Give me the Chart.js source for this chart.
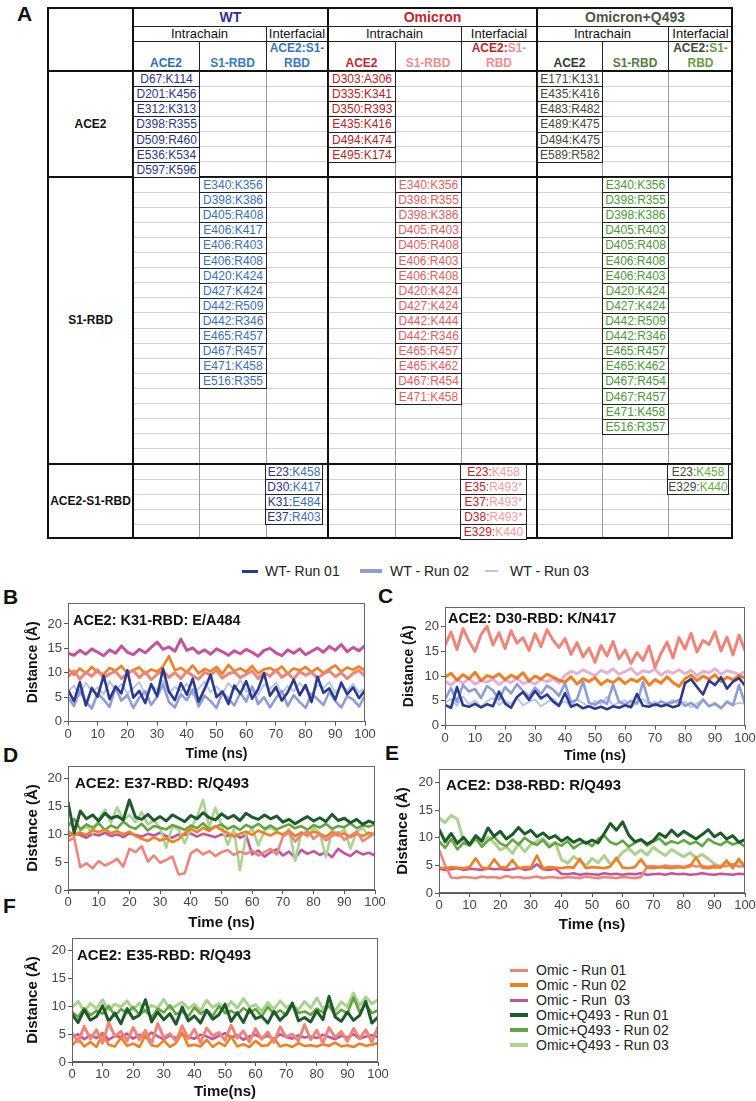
<!DOCTYPE html>
<html>
<head>
<meta charset="utf-8">
<script src="https://cdn.jsdelivr.net/npm/chart.js@4.4.0/dist/chart.umd.min.js"></script>
<style>
  body { margin:0; width:756px; height:1101px; position:relative; overflow:hidden; background:#fff;
         font-family:"Liberation Sans", Arial, sans-serif; color:#111; }
</style>
</head>
<body>
<script>
// ---------- table data (panel A) ----------
const wtAce2 = ["D67:K114","D201:K456","E312:K313","D398:R355","D509:R460","E536:K534","D597:K596"];
const wtS1 = ["E340:K356","D398:K386","D405:R408","E406:K417","E406:R403","E406:R408","D420:K424","D427:K424",
              "D442:R509","D442:R346","E465:R457","D467:R457","E471:K458","E516:R355"];
const wtInter = [["E23:","K458"],["D30:","K417"],["K31:","E484"],["E37:","R403"]];
const omAce2 = ["D303:A306","D335:K341","D350:R393","E435:K416","D494:K474","E495:K174"];
const omS1 = ["E340:K356","D398:R355","D398:K386","D405:R403","D405:R408","E406:R403","E406:R408","D420:K424",
              "D427:K424","D442:K444","D442:R346","E465:R457","E465:K462","D467:R454","E471:K458"];
const omInter = [["E23:","K458"],["E35:","R493*"],["E37:","R493*"],["D38:","R493*"],["E329:","K440"]];
const qAce2 = ["E171:K131","E435:K416","E483:R482","E489:K475","D494:K475","E589:R582"];
const qS1 = ["E340:K356","D398:R355","D398:K386","D405:R403","D405:R408","E406:R408","E406:R403","D420:K424",
             "D427:K424","D442:R509","D442:R346","E465:R457","E465:K462","D467:R454","D467:R457","E471:K458","E516:R357"];
const qInter = [["E23:","K458"],["E329:","K440"]];

// ---------- time series (ns) ----------
const times = [0,2,4,6,8,10,12,14,16,18,20,22,24,26,28,30,32,34,36,38,40,42,44,46,48,50,
               52,54,56,58,60,62,64,66,68,70,72,74,76,78,80,82,84,86,88,90,92,94,96,98,100];

// B: ACE2 K31 - RBD E/A484
const bWt1 = [6.5,4.2,8.1,3.3,6.9,5.1,9.4,4.6,7.2,5.8, 10.5,4.9,6.3,3.8,7.7,5.2,10.8,6.1,4.4,7.9,
              5.5,8.8,4.1,6.7,9.6,5.0,6.2,3.6,7.4,5.7, 8.3,4.7,6.6,9.9,5.3,7.1,4.3,6.0,8.6,5.4,
              7.5,4.0,9.2,5.9,6.8,4.5,8.0,5.6,7.0,4.8, 6.4];
const bWt2 = [5.0,3.2,6.4,4.1,2.7,5.8,4.5,3.0,6.9,4.3, 5.5,2.8,4.9,6.2,3.4,5.1,7.6,4.0,2.9,5.6,
              4.4,6.6,3.1,5.3,4.2,2.8,6.0,4.7,3.3,5.9, 4.1,7.2,3.6,5.0,2.9,4.8,6.3,3.2,5.4,4.0,
              2.8,5.7,4.6,3.4,6.1,4.2,2.9,5.2,4.5,3.1, 5.3];
const bWt3 = [6.2,7.4,5.3,8.0,6.1,7.0,5.6,8.3,6.4,7.7, 5.8,6.9,8.1,5.5,7.3,6.6,8.4,5.9,7.1,6.3,
              7.8,5.4,6.8,8.2,6.0,7.2,5.7,7.9,6.5,8.6, 6.1,7.0,5.5,7.6,6.7,8.0,5.8,7.3,6.2,7.9,
              6.6,5.4,7.5,6.9,8.1,5.9,7.2,6.4,7.7,6.0, 6.8];
const bOm1 = [9.2,10.4,8.7,10.1,9.3,10.6,8.9,9.8,10.3,8.8, 9.9,10.5,9.0,10.2,8.6,9.7,10.4,9.1,10.0,8.8,
              10.3,9.4,8.7,10.1,9.6,10.5,8.9,9.8,10.2,9.0, 9.7,10.4,8.8,10.0,9.3,10.6,9.1,9.9,8.7,10.3,
              9.5,10.1,8.9,9.8,10.4,9.2,10.0,8.8,9.9,10.5, 9.3];
const bOm2 = [10.8,9.6,10.9,9.9,11.2,10.1,9.7,11.0,10.4,11.4, 9.9,10.6,11.1,9.8,10.7,10.2,11.3,13.4,10.5,11.0,
              10.1,11.5,9.9,10.8,10.3,11.2,9.8,11.6,10.4,10.9, 10.2,11.4,9.9,10.7,11.0,10.3,11.3,9.8,10.9,10.5,
              11.2,10.1,11.0,9.9,10.8,11.5,10.2,11.1,10.6,11.3, 10.4];
const bOm3 = [14.0,13.6,14.6,13.8,14.9,14.2,13.5,14.7,14.0,15.5, 14.2,13.7,14.8,14.1,15.2,16.3,14.8,15.3,14.4,16.9,
              14.6,15.1,14.0,14.7,13.8,14.9,14.3,13.6,14.5,13.9, 14.8,14.2,13.4,14.6,15.0,14.1,13.5,14.7,14.0,14.9,
              13.7,14.4,15.1,14.2,15.4,14.6,15.8,14.3,15.2,14.5, 15.6];

// C: ACE2 D30 - RBD K/N417
const cWt1 = [4.2,3.6,7.8,4.1,3.8,4.4,3.7,4.3,3.9,6.9, 4.5,3.6,5.8,6.8,5.2,7.0,5.5,6.3,4.9,4.0,
              6.6,3.8,4.3,3.5,3.9,3.4,3.8,3.3,3.9,3.6, 4.1,3.7,6.4,4.0,3.8,4.3,3.9,4.2,3.7,4.1,
              8.6,9.4,7.8,6.3,9.1,8.2,9.8,7.5,8.9,9.6, 8.1];
const cWt2 = [5.3,7.6,4.8,8.2,6.9,7.4,5.6,8.0,7.1,5.2, 7.8,6.5,8.4,7.0,5.9,7.7,6.4,8.1,7.3,6.0,
              8.6,4.7,5.3,8.9,4.6,4.2,5.1,4.4,8.3,4.8, 4.3,5.0,4.5,8.8,4.6,4.1,4.9,4.4,4.7,5.2,
              4.0,4.6,3.6,5.3,3.9,4.4,3.5,4.8,4.1,8.2, 4.4];
const cWt3 = [4.6,5.4,4.0,5.9,4.3,5.1,3.8,4.9,5.6,4.2, 5.0,4.4,5.7,4.1,4.8,5.3,3.9,4.7,5.5,4.3,
              4.9,4.0,5.2,4.6,3.7,5.0,4.4,5.8,4.1,4.7, 5.1,3.8,4.5,5.4,4.2,4.9,3.9,4.6,5.2,4.3,
              4.8,3.7,4.5,5.1,4.0,4.7,3.6,5.0,4.2,4.6, 4.4];
const cOm1 = [16.2,18.9,15.4,19.6,17.1,15.0,18.4,20.1,16.3,18.8, 15.6,19.2,16.7,17.8,15.2,18.6,16.0,19.4,17.3,15.8,
              17.6,14.4,16.8,13.9,15.7,12.8,16.2,14.1,17.0,13.5, 15.3,12.6,14.8,13.2,16.1,11.8,14.6,16.9,13.7,17.8,
              15.5,18.7,14.9,17.2,16.4,19.0,15.1,17.9,14.3,18.3, 15.2];
const cOm2 = [9.8,10.6,9.2,10.3,9.5,10.8,9.1,10.1,9.7,10.5, 9.3,10.2,9.6,10.7,9.0,10.0,9.4,10.4,9.8,9.2,
              8.8,9.9,8.4,9.5,8.9,9.7,8.3,9.2,8.7,9.6, 8.5,9.4,8.9,9.8,8.2,9.3,8.6,9.9,8.7,7.9,
              9.5,10.2,9.1,10.0,9.4,10.3,8.9,9.8,9.3,10.1, 9.6];
const cOm3 = [9.0,8.2,9.3,8.6,9.5,8.4,9.1,8.8,9.4,8.3, 9.2,8.7,9.6,8.5,9.0,8.4,9.3,8.9,9.5,8.6,
              10.2,11.0,10.5,11.3,10.7,10.1,11.2,10.6,11.5,10.4, 10.9,11.6,10.3,11.1,10.8,11.4,10.2,11.0,10.6,11.3,
              10.5,11.2,10.1,11.0,10.7,11.5,10.4,11.1,10.8,10.3, 10.9];

// D: ACE2 E37 - RBD R/Q493
const dOm1 = [8.8,9.4,4.1,4.8,3.9,5.2,4.4,4.9,5.6,4.2, 7.4,6.8,7.9,5.1,6.2,4.9,5.4,6.0,2.8,3.0,
              6.6,7.3,6.4,7.0,6.1,6.8,7.2,6.3,6.9,6.5, 7.1,6.2,6.8,7.4,6.4,9.6,10.3,8.7,9.9,10.6,
              9.2,10.1,8.9,9.7,10.4,9.0,9.8,10.5,8.8,9.5, 10.2];
const dOm2 = [10.6,9.8,10.3,9.9,10.8,10.4,10.9,10.2,10.6,10.0, 10.5,9.7,9.2,8.8,9.5,8.9,9.3,8.6,9.1,10.2,
              11.0,10.4,11.2,10.6,11.5,10.8,10.3,9.6,10.1,10.5, 9.9,10.7,10.2,9.8,10.4,10.0,10.6,9.7,10.3,9.9,
              10.5,10.1,9.6,10.4,9.8,10.2,9.5,10.1,9.7,10.3, 9.9];
const dOm3 = [9.6,10.2,9.9,9.4,10.1,9.8,10.3,9.7,10.0,9.5, 10.2,9.9,9.6,10.1,9.8,10.3,9.7,9.4,10.0,9.9,
              10.2,9.6,10.1,9.8,9.5,10.0,9.7,10.3,9.4,9.9, 6.4,7.1,6.0,6.8,7.3,6.2,6.9,5.8,7.2,6.5,
              7.0,6.3,6.8,5.9,7.4,6.6,6.1,7.0,6.4,6.7, 6.2];
const dQ1 = [15.8,10.3,14.2,12.8,13.5,12.4,13.8,12.9,13.3,12.6, 16.2,13.1,12.7,13.6,12.5,13.2,12.4,13.5,12.9,12.3,
             13.4,12.8,13.9,13.0,12.6,13.7,12.9,13.4,12.5,13.8, 13.1,12.7,13.5,12.8,13.3,12.2,12.7,11.9,12.6,13.2,
             12.4,13.0,12.3,13.6,12.5,12.9,12.1,12.7,11.8,12.4, 12.0];
const dQ2 = [11.5,12.8,10.9,11.8,11.2,12.0,10.8,11.6,11.1,12.3, 11.4,11.0,11.9,10.7,11.5,11.2,10.9,11.7,11.3,10.8,
             11.6,11.1,12.0,10.9,11.4,11.8,11.0,11.5,10.8,11.7, 11.2,11.9,11.0,11.6,10.9,11.4,11.8,11.1,11.5,10.8,
             11.7,11.2,11.9,11.0,11.5,11.3,12.0,11.1,11.6,11.4, 11.8];
const dQ3 = [10.5,9.8,10.6,11.5,10.2,12.8,14.4,12.1,14.9,12.6, 13.5,12.2,14.0,11.8,12.5,11.2,7.6,11.5,10.9,8.4,
             11.0,13.2,16.2,11.3,14.8,11.6,8.1,10.9,3.6,9.8, 11.1,8.0,10.7,11.3,10.5,9.8,11.0,5.2,10.4,9.6,
             11.2,10.3,5.9,10.8,9.9,11.0,7.4,10.5,11.1,9.8, 10.4];

// E: ACE2 D38 - RBD R/Q493
const eOm1 = [7.9,5.0,2.8,2.7,2.9,2.8,2.7,3.0,2.8,2.9, 2.7,3.1,2.8,2.9,2.7,2.8,3.0,2.7,2.9,2.8,
              2.7,2.9,2.8,2.7,3.0,2.8,2.7,2.9,2.8,2.7, 2.9,2.8,2.7,2.9,4.8,4.9,4.7,5.0,4.8,4.9,
              4.7,5.1,4.8,4.9,4.7,5.0,4.8,4.9,5.2,4.8, 4.9];
const eOm2 = [4.6,4.5,4.7,4.6,4.5,4.7,6.3,4.6,4.5,6.1, 4.7,4.6,6.0,4.5,4.7,4.6,6.8,4.5,4.7,4.6,
              4.5,4.7,4.6,6.2,4.5,4.7,4.6,4.5,4.8,6.4, 4.6,4.5,4.7,6.1,4.6,4.5,4.7,4.6,4.5,4.7,
              4.6,4.8,6.5,4.6,4.5,4.7,4.6,5.9,4.5,6.2, 4.6];
const eOm3 = [4.4,4.2,4.3,4.5,4.2,4.4,4.3,4.2,4.5,4.3, 4.4,4.2,4.3,4.6,4.2,4.4,5.2,4.3,4.2,4.4,
              3.5,3.4,3.6,3.3,3.5,3.4,3.3,3.6,3.4,3.5, 3.3,3.5,3.4,3.6,3.3,3.4,3.5,3.3,3.6,3.4,
              3.5,3.3,3.4,3.6,3.4,3.3,3.5,3.4,3.3,3.5, 3.4];
const eQ1 = [11.6,9.3,10.8,9.0,10.1,8.8,10.4,9.4,11.8,10.3, 11.2,9.8,10.6,11.9,10.7,11.4,10.2,10.9,9.9,10.4,
             9.4,10.1,9.2,9.8,9.0,9.6,9.1,10.8,12.6,11.4, 12.9,10.5,9.3,9.7,8.9,9.5,10.8,10.1,11.4,10.3,
             11.2,10.5,9.8,10.6,11.5,10.2,10.9,9.8,10.4,9.2, 9.7];
const eQ2 = [9.4,8.2,9.8,7.9,9.1,8.6,9.9,8.4,9.5,10.2, 9.0,8.5,9.7,8.8,10.0,9.2,8.7,9.6,8.3,9.1,
             8.6,9.4,8.1,8.9,9.3,8.5,9.8,10.4,9.2,8.8, 9.5,8.4,9.1,9.7,8.6,9.3,9.9,8.8,9.4,9.0,
             9.6,8.9,9.3,8.5,9.8,9.1,8.7,9.4,8.8,9.2, 8.4];
const eQ3 = [13.6,12.8,14.1,13.4,9.5,8.6,9.8,8.9,10.2,9.1, 7.8,8.4,7.2,8.9,7.5,8.8,9.4,9.9,8.6,9.2,
             6.1,5.4,6.6,5.8,4.9,6.3,5.5,6.8,5.2,6.0, 7.4,8.1,7.0,7.8,6.9,8.3,7.5,6.8,7.9,7.2,
             6.6,7.3,6.4,7.0,6.2,5.3,4.8,5.6,4.9,5.8, 5.1];

// F: ACE2 E35 - RBD R/Q493
const fOm1 = [5.2,3.6,6.4,4.1,5.8,3.4,7.1,4.6,5.5,3.8, 6.2,4.0,5.7,3.3,6.9,4.4,5.1,3.7,6.5,4.2,
              5.9,3.5,6.1,4.7,5.3,3.9,6.6,4.3,5.6,3.6, 6.0,4.1,5.4,3.5,6.3,4.5,5.0,3.8,6.7,4.0,
              5.7,3.4,6.2,4.4,5.5,3.7,6.0,4.2,5.8,3.6, 6.3];
const fOm2 = [3.0,4.2,2.8,3.6,2.7,5.1,3.1,2.8,4.4,2.9, 3.3,2.7,4.8,3.0,2.8,3.9,2.7,3.4,5.3,2.9,
              3.1,2.8,4.0,2.7,3.5,2.9,4.6,2.8,3.2,2.7, 3.8,2.9,3.0,4.3,2.8,3.1,2.7,3.4,2.9,3.0,
              2.8,3.2,2.9,3.5,2.8,3.0,2.7,3.3,2.9,3.1, 3.4];
const fOm3 = [4.4,5.0,4.1,4.8,4.3,5.2,4.0,4.7,4.5,5.1, 4.2,4.9,4.4,5.3,4.6,4.1,4.8,4.3,5.0,4.5,
              4.2,4.9,4.6,4.1,4.7,5.2,4.4,4.8,4.0,4.6, 4.9,4.3,4.7,4.1,5.0,4.5,4.2,4.8,4.4,4.6,
              4.3,4.9,4.5,4.1,4.7,4.4,5.0,4.2,4.6,4.8, 4.5];
const fQ1 = [8.6,7.1,9.4,7.5,8.2,10.1,7.3,8.8,6.9,9.6, 7.8,8.4,11.2,7.2,9.0,7.6,8.7,6.8,9.9,7.4,
             8.3,7.0,9.3,7.7,8.5,10.4,7.3,8.9,7.1,9.5, 7.8,8.2,7.0,9.1,7.5,8.6,10.6,7.4,8.0,7.2,
             9.2,7.6,11.8,8.1,7.3,9.0,7.5,8.4,10.9,7.0, 8.1];
const fQ2 = [9.0,8.1,9.7,8.4,9.2,8.7,10.1,8.3,9.5,8.8, 9.9,8.5,9.3,8.0,9.6,8.9,10.2,8.6,9.1,8.2,
             9.8,8.7,9.4,8.3,10.0,8.8,9.2,8.5,9.7,8.9, 9.5,8.2,9.9,8.6,9.3,8.4,10.3,8.8,9.1,8.5,
             9.6,8.9,10.1,8.4,9.4,8.7,11.6,9.0,10.4,8.8, 9.3];
const fQ3 = [9.8,10.9,9.1,10.5,9.6,11.2,9.3,10.4,9.9,11.0, 9.4,10.6,9.0,10.2,9.7,11.3,9.5,10.1,10.8,9.6,
             10.4,9.2,11.1,9.8,10.5,9.3,10.9,9.7,11.4,9.9, 10.3,9.1,10.7,9.5,11.0,9.8,10.2,9.4,10.9,9.7,
             11.5,9.6,10.3,9.2,10.8,9.9,12.4,10.1,11.7,10.5, 11.2];

// ---------- colours ----------
const COL = {
  wt1: "#2b3990", wt2: "#8e9dd6", wt3: "#b9c5e8",
  om1: "#ef8479", om2: "#f28020", om3: "#c4529f",
  q1: "#1f5a2c", q2: "#63a540", q3: "#abd290"
};

// ---------- helpers ----------
function el(css, html) {
  const d = document.createElement("div");
  d.style.cssText = "position:absolute;" + css;
  if (html != null) d.innerHTML = html;
  document.body.appendChild(d);
  return d;
}
function hline(x1, x2, y, w, c) { el(`left:${x1}px;top:${y - w / 2}px;width:${x2 - x1}px;height:${w}px;background:${c}`); }
function vline(x, y1, y2, w, c) { el(`left:${x - w / 2}px;top:${y1}px;width:${w}px;height:${y2 - y1}px;background:${c}`); }
function cell(x1, x2, y1, y2, html, css) {
  el(`left:${x1}px;top:${y1}px;width:${x2 - x1}px;height:${y2 - y1}px;display:flex;align-items:center;justify-content:center;text-align:center;line-height:1.2;${css}`, html);
}
function text(x, cy, str, css) {
  const d = el(`left:${x}px;top:0px;white-space:pre;line-height:1;${css}`);
  d.textContent = str;
  d.style.top = (cy - d.offsetHeight / 2) + "px";
  return d;
}

// ---------- panel A table ----------
const secs = [{ top: 71, bot: 177, n: 7 }, { top: 177, bot: 464, n: 19 }, { top: 464, bot: 539, n: 5 }];

secs.forEach(s => {
  const h = (s.bot - s.top) / s.n;
  for (let i = 1; i < s.n; i++) hline(133, 733, s.top + i * h, 1, "#d2d2d2");
});
[199, 266, 395, 461, 602, 668].forEach(x => vline(x, 71, 539, 1, "#9a9a9a"));
[266, 461, 668].forEach(x => vline(x, 26, 41, 1, "#222"));
[199, 266, 395, 461, 602, 668].forEach(x => vline(x, 41, 71, 1, "#222"));
hline(133, 733, 26, 1, "#222");
hline(133, 733, 41, 1, "#222");
[71, 177, 464].forEach(y => hline(48, 733, y, 2, "#111"));
vline(133, 8, 539, 1.5, "#111");
vline(328, 8, 539, 2, "#111");
vline(537, 8, 539, 2, "#111");
el("left:47px;top:7px;width:686px;height:532px;border:2px solid #111;box-sizing:border-box");

const head1 = "font-size:14px;font-weight:bold;";
cell(133, 328, 8, 26, "WT", head1 + "color:#2e3192");
cell(328, 537, 8, 26, "Omicron", head1 + "color:#c1272d");
cell(537, 733, 8, 26, "Omicron+Q493", head1 + "color:#4b5845");
const head2 = "font-size:13px;color:#111;";
cell(133, 266, 26, 41, "Intrachain", head2); cell(266, 328, 26, 41, "Interfacial", head2);
cell(328, 461, 26, 41, "Intrachain", head2); cell(461, 537, 26, 41, "Interfacial", head2);
cell(537, 668, 26, 41, "Intrachain", head2); cell(668, 733, 26, 41, "Interfacial", head2);
const head3 = "font-size:12px;font-weight:bold;align-items:flex-end;padding-bottom:1px;box-sizing:border-box;";
cell(133, 199, 41, 71, "ACE2", head3 + "color:#2f6db3");
cell(199, 266, 41, 71, "S1-RBD", head3 + "color:#3b77c0");
cell(266, 328, 41, 71, "ACE2:S1-<br>RBD", head3 + "color:#3b77c0");
cell(328, 395, 41, 71, "ACE2", head3 + "color:#c1272d");
cell(395, 461, 41, 71, "S1-RBD", head3 + "color:#ee8f8f");
cell(461, 537, 41, 71, '<span><span style="color:#c1272d">ACE2:</span>S1-<br>RBD</span>', head3 + "color:#ee8f8f");
cell(537, 602, 41, 71, "ACE2", head3 + "color:#333a30");
cell(602, 668, 41, 71, "S1-RBD", head3 + "color:#4f7f3a");
cell(668, 733, 41, 71, '<span><span style="color:#3f4a3c">ACE2:</span>S1-<br>RBD</span>', head3 + "color:#6b9a45");

cell(48, 133, 71, 177, "ACE2", "font-size:12px;font-weight:bold");
cell(48, 133, 177, 464, "S1-RBD", "font-size:12px;font-weight:bold");
cell(48, 133, 464, 539, "ACE2-S1-RBD", "font-size:12px;font-weight:bold");

function boxes(list, x1, x2, sec, c1, c2) {
  const s = secs[sec], h = (s.bot - s.top) / s.n;
  list.forEach((t, i) => {
    const y = s.top + i * h;
    const html = Array.isArray(t) ? `<span style="color:${c1}">${t[0]}</span><span style="color:${c2}">${t[1]}</span>` : t;
    el(`left:${x1}px;top:${y}px;width:${x2 - x1 + 1}px;height:${h + 1}px;box-sizing:border-box;border:1px solid #222;background:#fff;display:flex;align-items:center;justify-content:center;font-size:12px;color:${c1};`, html);
  });
}
boxes(wtAce2, 133, 199, 0, "#2b3588");
boxes(wtS1, 199, 266, 1, "#3a6fb7");
boxes(wtInter, 265, 322, 2, "#2b3588", "#3a6fb7");
boxes(omAce2, 328, 395, 0, "#b31f28");
boxes(omS1, 395, 461, 1, "#e0605f");
boxes(omInter, 460, 526, 2, "#c8202a", "#f2a0a0");
boxes(qAce2, 537, 602, 0, "#3f4a3c");
boxes(qS1, 602, 668, 1, "#4c9a3a");
boxes(qInter, 667, 728, 2, "#3f4a3c", "#6bab3f");

// ---------- panel letters ----------
const letter = "font-size:21px;font-weight:bold;color:#111;";
text(17, 13, "A", letter);
text(3, 596, "B", letter);
text(378, 595, "C", letter);
text(3, 754, "D", letter);
text(385, 752, "E", letter);
text(3, 905, "F", letter);

// ---------- legends ----------
function legItem(x1, x2, y, color, th, label, tx) {
  el(`left:${x1}px;top:${y - th / 2}px;width:${x2 - x1}px;height:${th}px;background:${color}`);
  text(tx, y, label, "font-size:14px;color:#222");
}
legItem(242, 258, 571, COL.wt1, 3, "WT- Run 01", 265);
legItem(360, 382, 571, COL.wt2, 4, "WT - Run 02", 390);
legItem(485, 498, 571, COL.wt3, 2, "WT - Run 03", 510);
legItem(510, 528, 970, COL.om1, 3, "Omic - Run 01", 536);
legItem(510, 528, 985, COL.om2, 4, "Omic - Run 02", 536);
legItem(510, 528, 1000, COL.om3, 3, "Omic - Run  03", 536);
legItem(510, 528, 1015, COL.q1, 4, "Omic+Q493 - Run 01", 536);
legItem(510, 528, 1030, COL.q2, 4, "Omic+Q493 - Run 02", 536);
legItem(510, 528, 1045, COL.q3, 4, "Omic+Q493 - Run 03", 536);

// ---------- charts ----------
Chart.defaults.font.family = '"Liberation Sans", Arial, sans-serif';

const frame = {
  id: "frame",
  afterDraw(c) {
    const a = c.chartArea, g = c.ctx;
    g.save();
    g.strokeStyle = "#666";
    g.lineWidth = 1;
    g.strokeRect(Math.round(a.left) + 0.5, Math.round(a.top) + 0.5, Math.round(a.width) - 1, Math.round(a.height) - 1);
    g.restore();
  }
};

function ds(values, color, w) {
  return {
    data: values.map((v, i) => ({ x: times[i], y: v })),
    borderColor: color, borderWidth: w || 2.6, pointRadius: 0, tension: 0, fill: false,
    borderJoinStyle: "round"
  };
}

function makeChart(p, sets) {
  const lh = p.fs * 1.2;
  const left = p.distX - 25, yw = p.L - left;
  const padTop = 10, padRight = 16;
  const top = p.T - padTop;
  const xh = p.timeY + lh / 2 - p.B;
  const w = p.R - p.L + yw + padRight, h = p.B - p.T + padTop + xh;
  const cv = document.createElement("canvas");
  cv.width = w; cv.height = h;
  cv.style.cssText = `position:absolute;left:${left}px;top:${top}px;width:${w}px;height:${h}px`;
  document.body.appendChild(cv);
  new Chart(cv, {
    type: "line",
    data: { datasets: sets },
    options: {
      responsive: false, animation: false, events: [],
      layout: { padding: { top: padTop, right: padRight, left: 0, bottom: 0 } },
      plugins: { legend: { display: false }, tooltip: { enabled: false } },
      scales: {
        x: {
          type: "linear", min: 0, max: 100,
          ticks: { stepSize: 10, font: { size: 13 }, color: "#444", padding: 1, maxRotation: 0, autoSkip: false },
          grid: { drawOnChartArea: false, tickLength: 4, color: "#555" },
          border: { color: "#555" },
          title: { display: true, text: p.timeText || "Time (ns)", font: { size: p.fs, weight: "bold" }, color: "#111", padding: 0 },
          afterFit(s) { s.height = xh; }
        },
        y: {
          min: 0, max: p.yMax,
          ticks: { stepSize: 5, includeBounds: false, font: { size: 13 }, color: "#444", padding: 2 },
          grid: { drawOnChartArea: false, tickLength: 4, color: "#555" },
          border: { color: "#555" },
          title: { display: true, text: "Distance (Å)", font: { size: p.fs, weight: "bold" }, color: "#111", padding: { top: 25 - lh / 2, bottom: 0 } },
          afterFit(s) { s.width = yw; }
        }
      }
    },
    plugins: [frame]
  });
  text(p.tx, p.ty, p.title, `font-size:${p.tfs}px;font-weight:bold;color:#111`);
}

makeChart({ L: 68, T: 603, R: 365, B: 722, yMax: 24.3, fs: 14, distX: 33, timeY: 755,
            title: "ACE2: K31-RBD: E/A484", tx: 73, ty: 620, tfs: 14.5 },
  [ds(bWt1, COL.wt1), ds(bWt2, COL.wt2), ds(bWt3, COL.wt3, 2), ds(bOm3, COL.om3, 3), ds(bOm1, COL.om1, 3), ds(bOm2, COL.om2)]);

makeChart({ L: 445, T: 607, R: 745, B: 726, yMax: 24, fs: 14, distX: 409, timeY: 757,
            title: "ACE2: D30-RBD: K/N417", tx: 448, ty: 618, tfs: 14.5 },
  [ds(cWt1, COL.wt1), ds(cOm3, "rgba(196,82,159,0.45)", 3), ds(cOm2, COL.om2, 3), ds(cWt2, COL.wt2), ds(cWt3, COL.wt3, 2), ds(cOm1, COL.om1, 3)]);

makeChart({ L: 68, T: 766, R: 375, B: 890, yMax: 22.3, fs: 15, distX: 33, timeY: 923,
            title: "ACE2: E37-RBD: R/Q493", tx: 75, ty: 782, tfs: 15 },
  [ds(dQ1, COL.q1, 3), ds(dOm1, COL.om1), ds(dOm2, COL.om2), ds(dQ2, COL.q2), ds(dQ3, COL.q3), ds(dOm3, COL.om3)]);

makeChart({ L: 439, T: 769, R: 745, B: 893, yMax: 22.5, fs: 15, distX: 403, timeY: 925,
            title: "ACE2: D38-RBD: R/Q493", tx: 446, ty: 784, tfs: 15 },
  [ds(eQ1, COL.q1, 3), ds(eQ2, COL.q2), ds(eOm2, COL.om2), ds(eOm1, COL.om1), ds(eOm3, COL.om3), ds(eQ3, COL.q3, 3)]);

makeChart({ L: 72, T: 938, R: 378, B: 1062, yMax: 22.3, fs: 15, distX: 33, timeY: 1092, timeText: "Time(ns)",
            title: "ACE2: E35-RBD: R/Q493", tx: 77, ty: 954, tfs: 15 },
  [ds(fOm1, COL.om1, 3), ds(fOm2, COL.om2), ds(fQ1, COL.q1, 3), ds(fQ2, COL.q2), ds(fQ3, COL.q3, 3), ds(fOm3, COL.om3)]);
</script>
</body>
</html>
